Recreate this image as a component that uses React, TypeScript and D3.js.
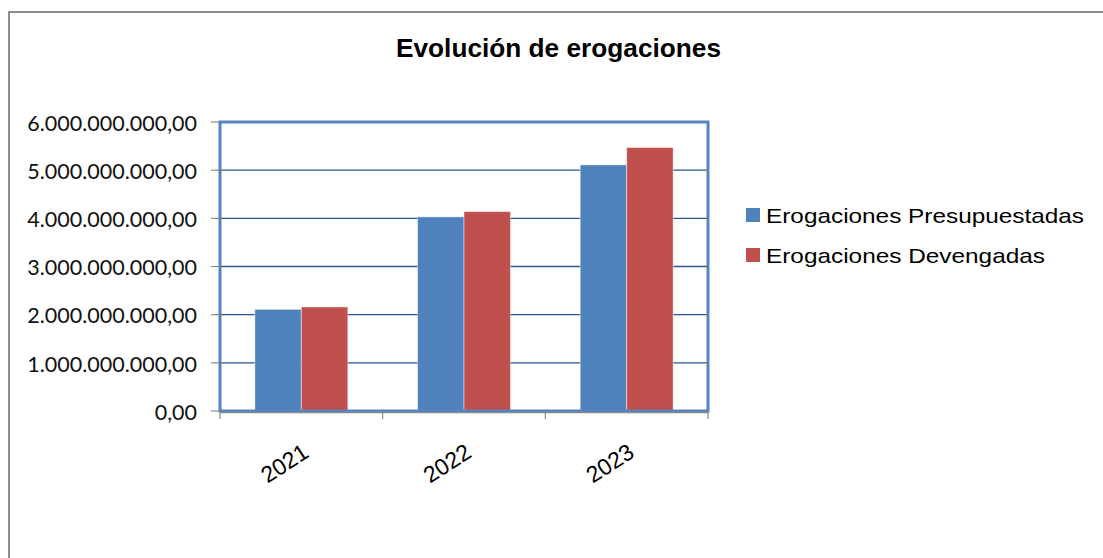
import React from "react";
import * as d3 from "d3";

const years = ["2021", "2022", "2023"];
const seriesNames = ["Erogaciones Presupuestadas", "Erogaciones Devengadas"];
const presupuestadas = [2110000000, 4030000000, 5110000000];
const devengadas = [2160000000, 4140000000, 5470000000];
const yTicks = [0, 1e9, 2e9, 3e9, 4e9, 5e9, 6e9];
const seriesColors = ["#4F81BD", "#C0504D"];
const title = "Evolución de erogaciones";

const W = 1103;
const H = 558;
const plot = { left: 220, right: 708, top: 122, bottom: 411 };

const fmt = (v: number) => {
  const s = d3.format(",.2f")(v);
  return s.replace(/,/g, "#").replace(".", ",").replace(/#/g, ".");
};

export default function App() {
  const y = d3.scaleLinear().domain([0, 6e9]).range([plot.bottom, plot.top]);
  const x0 = d3.scaleBand<string>().domain(years).range([plot.left, plot.right]).padding(0);
  const x1 = d3
    .scaleBand<string>()
    .domain(seriesNames)
    .range([0, x0.bandwidth()])
    .paddingInner(0)
    .paddingOuter(0.75);
  const seriesValues = [presupuestadas, devengadas];
  const axisGray = "#8a8a8a";
  const tickEdges = [...years.map((yr) => x0(yr) as number), plot.right];

  return (
    <svg
      width={W}
      height={H}
      style={{ position: "absolute", left: 0, top: 0, background: "#fff" }}
    >
      <rect x={0} y={0} width={W} height={H} fill="#fff" />
      <rect x={9} y={12} width={W + 20} height={H + 20} fill="none" stroke="#8c8c8c" strokeWidth={2} />

      <text
        x={558.5}
        y={56.5}
        textAnchor="middle"
        fontFamily="'Liberation Sans', Arial, sans-serif"
        fontWeight="bold"
        fontSize={26}
        textLength={325}
        lengthAdjust="spacingAndGlyphs"
        fill="#000"
      >
        {title}
      </text>

      {yTicks.slice(1).map((t) => (
        <line
          key={"g" + t}
          x1={plot.left}
          x2={plot.right}
          y1={y(t)}
          y2={y(t)}
          stroke="#2c5596"
          strokeWidth={1.4}
        />
      ))}

      {yTicks.map((t) => (
        <g key={"t" + t}>
          <line x1={211} x2={plot.left} y1={y(t)} y2={y(t)} stroke={axisGray} strokeWidth={1.2} />
          <text
            x={197}
            y={y(t) + 8.7}
            textAnchor="end"
            fontFamily="Lato, 'Open Sans', sans-serif"
            fontSize={21.5}
            fill="#111"
          >
            {fmt(t)}
          </text>
        </g>
      ))}

      {years.map((yr, i) => (
        <g key={yr}>
          {seriesNames.map((s, j) => {
            const v = seriesValues[j][i];
            const bx = (x0(yr) as number) + (x1(s) as number);
            return (
              <rect
                key={s}
                x={bx}
                y={y(v)}
                width={x1.bandwidth()}
                height={y(0) - y(v)}
                fill={seriesColors[j]}
                stroke="#ffffff"
                strokeOpacity={0.45}
                strokeWidth={1}
              />
            );
          })}
        </g>
      ))}

      <rect
        x={plot.left}
        y={plot.top}
        width={plot.right - plot.left}
        height={plot.bottom - plot.top}
        fill="none"
        stroke="#5584c0"
        strokeWidth={3}
      />

      <line x1={plot.left} x2={plot.right} y1={412.7} y2={412.7} stroke={axisGray} strokeWidth={1.2} />
      {tickEdges.map((tx, i) => (
        <line key={"xt" + i} x1={tx} x2={tx} y1={411} y2={419} stroke={axisGray} strokeWidth={1.2} />
      ))}
      {years.map((yr) => {
        const cx = (x0(yr) as number) + x0.bandwidth() / 2;
        return (
          <text
            key={"xl" + yr}
            transform={`translate(${cx + 9},${456}) rotate(-33)`}
            textAnchor="end"
            fontFamily="'Liberation Sans', Arial, sans-serif"
            fontSize={23}
            fill="#000"
          >
            {yr}
          </text>
        );
      })}

      {seriesNames.map((s, j) => (
        <g key={"lg" + s}>
          <rect x={746} y={208 + j * 40} width={14} height={14} fill={seriesColors[j]} />
          <text
            x={766}
            y={223 + j * 40}
            fontFamily="'Liberation Sans', Arial, sans-serif"
            fontSize={21}
            textLength={j === 0 ? 318 : 279}
            lengthAdjust="spacingAndGlyphs"
            fill="#000"
          >
            {s}
          </text>
        </g>
      ))}
    </svg>
  );
}
